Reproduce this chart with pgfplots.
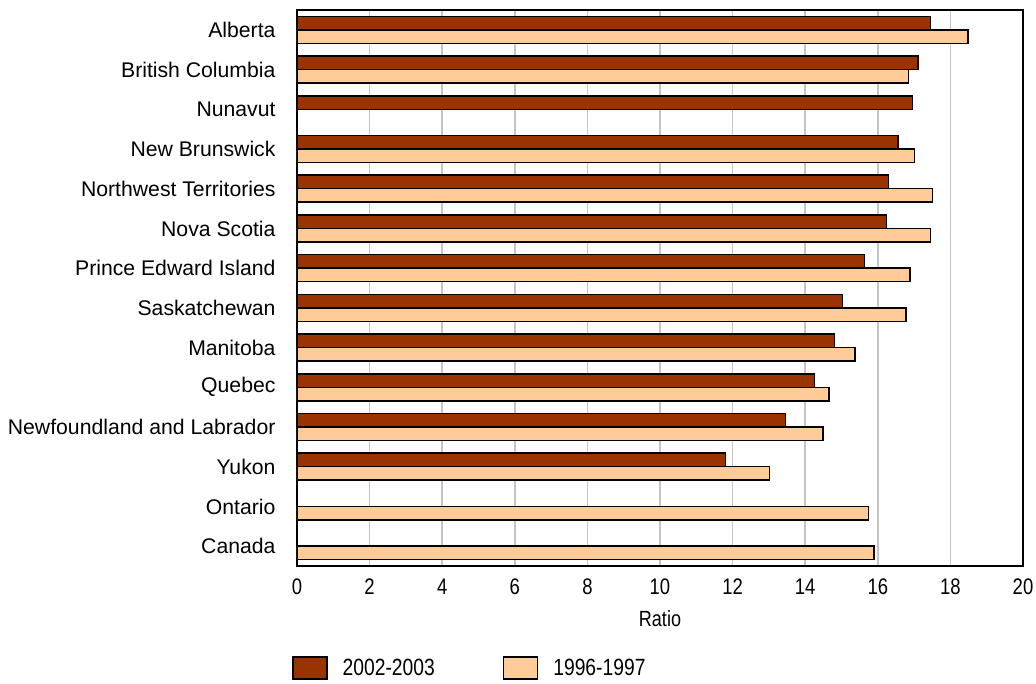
\documentclass[border=0pt]{standalone}
\usepackage{fontspec}
\setmainfont{Liberation Sans}[FakeStretch=0.82]
\newfontfamily\catfont{Liberation Sans}
\usepackage{pgfplots}
\pgfplotsset{compat=1.18}

\definecolor{recent}{HTML}{993300}
\definecolor{earlier}{HTML}{FFCC99}
\definecolor{gridgray}{HTML}{C4C4C4}

\pgfplotsset{
  boxlegend/.style={
    legend image code/.code={\draw[##1, line width=1.5pt] (0pt,-11pt) rectangle (34pt,11pt);}
  }
}

\begin{document}
\begin{tikzpicture}[x=1pt,y=1pt]
\begin{axis}[
  at={(0,0)}, anchor=south west,
  scale only axis, width=726pt, height=556pt,
  bar width=13.5pt,
  xmin=0, xmax=20, ymin=-0.5, ymax=13.5, y dir=reverse,
  ytick={0,...,13},
  yticklabels={Alberta, British Columbia, Nunavut, New Brunswick,
    Northwest Territories, Nova Scotia, Prince Edward Island, Saskatchewan,
    Manitoba, Quebec, Newfoundland and Labrador, Yukon, Ontario, Canada},
  xtick={0,2,...,20},
  /pgf/number format/assume math mode=true,
  xmajorgrids, major grid style={gridgray, line width=1.5pt},
  major tick length=0pt,
  axis line style={black, line width=2pt},
  tick label style={font=\fontsize{22.5}{26}\selectfont},
  yticklabel style={font=\catfont\fontsize{21.2}{25}\selectfont, xshift=-18pt},
  xticklabel style={yshift=-9pt},
  xlabel={Ratio},
  xlabel style={font=\fontsize{22}{26}\selectfont, yshift=-9pt},
  legend columns=2,
  legend style={at={(0,0)}, anchor=north west, xshift=-8pt, yshift=-88pt,
    draw=none, fill=none, font=\fontsize{23.5}{27}\selectfont,
    /tikz/every odd column/.append style={column sep=13pt},
    /tikz/every even column/.append style={column sep=66pt}},
]
% 2002-2003
\addplot[xbar, bar shift=6.75pt, fill=recent, draw=black, line width=1.5pt, boxlegend]
  coordinates {
  (17.45,0) (17.11,1) (16.95,2) (16.56,3) (16.30,4) (16.24,5) (15.64,6)
  (15.03,7) (14.81,8) (14.26,9) (13.46,10) (11.81,11)
  };
% 1996-1997
\addplot[xbar, bar shift=-6.75pt, fill=earlier, draw=black, line width=1.5pt, boxlegend]
  coordinates {
  (18.48,0) (16.84,1) (17.01,3) (17.51,4) (17.45,5) (16.89,6)
  (16.78,7) (15.37,8) (14.65,9) (14.49,10) (13.02,11) (15.74,12) (15.90,13)
  };
\legend{2002-2003, 1996-1997}
\end{axis}
\pgfresetboundingbox
\path[use as bounding box] (-297,-118) rectangle (739,566);
\end{tikzpicture}
\end{document}
